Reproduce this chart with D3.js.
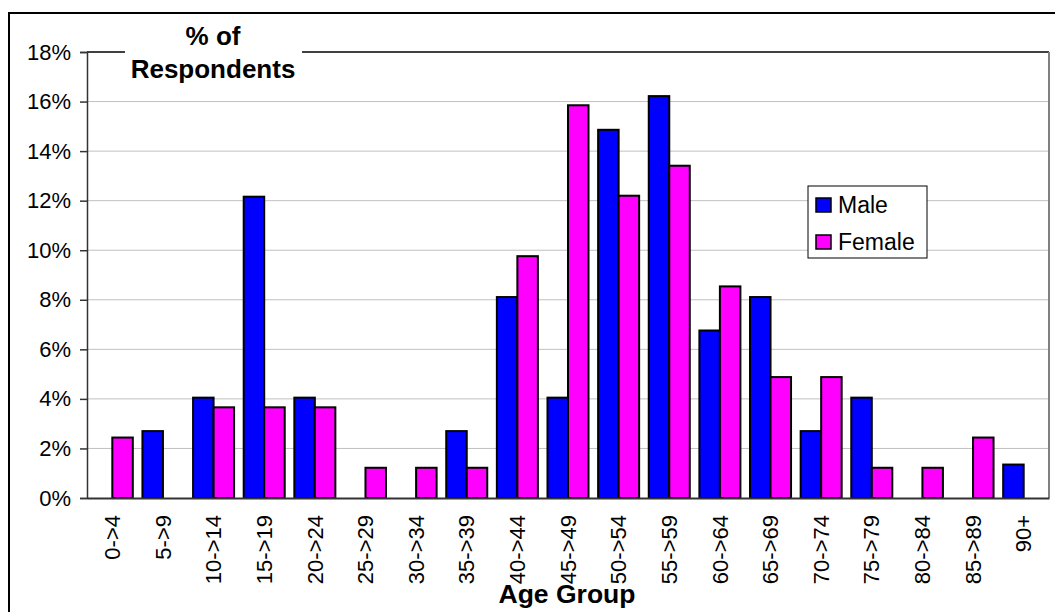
<!DOCTYPE html>
<html>
<head>
<meta charset="utf-8">
<script src="https://cdn.jsdelivr.net/npm/d3@7"></script>
<style>
  html, body { margin: 0; padding: 0; background: #fff; }
  svg { display: block; font-family: Arial, "Liberation Sans", sans-serif; }
</style>
</head>
<body>
<svg id="chart" width="1055" height="612"></svg>
<script>
const categories = ["0->4","5->9","10->14","15->19","20->24","25->29","30->34","35->39","40->44","45->49","50->54","55->59","60->64","65->69","70->74","75->79","80->84","85->89","90+"];
const seriesNames = ["Male","Female"];
const maleValues   = [0, 2.70, 4.05, 12.16, 4.05, 0, 0, 2.70, 8.11, 4.05, 14.86, 16.22, 6.76, 8.11, 2.70, 4.05, 0, 0, 1.35];
const femaleValues = [2.44, 0, 3.66, 3.66, 3.66, 1.22, 1.22, 1.22, 9.76, 15.85, 12.20, 13.41, 8.54, 4.88, 4.88, 1.22, 1.22, 2.44, 0];
const yTicks = [0, 2, 4, 6, 8, 10, 12, 14, 16, 18];
const colors = {Male: "#0000ff", Female: "#ff00ff"};

const svg = d3.select("#chart");
const pLeft = 87, pRight = 1049, pTop = 52, pBottom = 498;

// outer chart border
svg.append("rect").attr("x", 9).attr("y", 13).attr("width", 1060).attr("height", 620)
  .attr("fill", "none").attr("stroke", "#000").attr("stroke-width", 2);

const x0 = d3.scaleBand().domain(categories).range([pLeft, pRight]).paddingInner(0.19).paddingOuter(0.095);
const x1 = d3.scaleBand().domain(seriesNames).range([0, x0.bandwidth()]);
const y = d3.scaleLinear().domain([0, 18]).range([pBottom, pTop]);

// gridlines
svg.append("g").selectAll("line").data(yTicks.filter(d => d > 0 && d < 18)).join("line")
  .attr("x1", pLeft).attr("x2", pRight)
  .attr("y1", d => y(d)).attr("y2", d => y(d))
  .attr("stroke", "#c0c0c0").attr("stroke-width", 1);

// plot area border: top black, right gray
svg.append("line").attr("x1", pLeft).attr("x2", pRight).attr("y1", pTop).attr("y2", pTop)
  .attr("stroke", "#000").attr("stroke-width", 1.5);
svg.append("line").attr("x1", pRight).attr("x2", pRight).attr("y1", pTop).attr("y2", pBottom)
  .attr("stroke", "#808080").attr("stroke-width", 2);

// bars
const data = categories.map((c, i) => ({cat: c, vals: [
  {s: "Male", v: maleValues[i]}, {s: "Female", v: femaleValues[i]}]}));
const groups = svg.append("g").selectAll("g").data(data).join("g")
  .attr("transform", d => `translate(${x0(d.cat)},0)`);
groups.selectAll("rect").data(d => d.vals.filter(v => v.v > 0)).join("rect")
  .attr("x", d => x1(d.s)).attr("width", x1.bandwidth())
  .attr("y", d => y(d.v)).attr("height", d => y(0) - y(d.v))
  .attr("fill", d => colors[d.s]).attr("stroke", "#000").attr("stroke-width", 2);

// y axis
const yAxis = d3.axisLeft(y).tickValues(yTicks).tickFormat(d => d + "%").tickSize(7).tickPadding(9);
const yg = svg.append("g").attr("transform", `translate(${pLeft},0)`).call(yAxis);
yg.select(".domain").attr("stroke", "#333").attr("stroke-width", 1.5);
yg.selectAll(".tick line").attr("stroke", "#333").attr("stroke-width", 1.5);
yg.selectAll(".tick text").attr("font-size", 22).attr("fill", "#000").attr("font-family", "Arial, 'Liberation Sans', sans-serif");

// x axis
const xAxis = d3.axisBottom(x0).tickSize(0).tickPadding(0);
const xg = svg.append("g").attr("transform", `translate(0,${pBottom})`).call(xAxis);
xg.select(".domain").attr("stroke", "#333").attr("stroke-width", 2);
xg.selectAll(".tick text")
  .attr("font-size", 22).attr("fill", "#000").attr("font-family", "Arial, 'Liberation Sans', sans-serif")
  .attr("transform", "rotate(-90)")
  .attr("text-anchor", "end")
  .attr("x", -17).attr("y", 0).attr("dy", "0.35em");

// title box
svg.append("rect").attr("x", 125).attr("y", 20).attr("width", 177).attr("height", 64).attr("fill", "#fff");
const title = svg.append("text").attr("text-anchor", "middle").attr("font-weight", "bold").attr("font-size", 26);
title.append("tspan").attr("x", 213).attr("y", 45).text("% of");
title.append("tspan").attr("x", 213).attr("y", 78).text("Respondents");

// x axis title
svg.append("text").attr("x", 567).attr("y", 603).attr("text-anchor", "middle")
  .attr("font-weight", "bold").attr("font-size", 26.5).text("Age Group");

// legend
const lg = svg.append("g");
lg.append("rect").attr("x", 808).attr("y", 186).attr("width", 119).attr("height", 72)
  .attr("fill", "#fff").attr("stroke", "#000").attr("stroke-width", 1);
const items = lg.selectAll("g").data(seriesNames).join("g")
  .attr("transform", (d, i) => `translate(816,${198 + i * 37})`);
items.append("rect").attr("width", 15).attr("height", 14)
  .attr("fill", d => colors[d]).attr("stroke", "#000").attr("stroke-width", 1.5);
items.append("text").attr("x", 22).attr("y", 15).attr("font-size", 23).text(d => d);
</script>
</body>
</html>
